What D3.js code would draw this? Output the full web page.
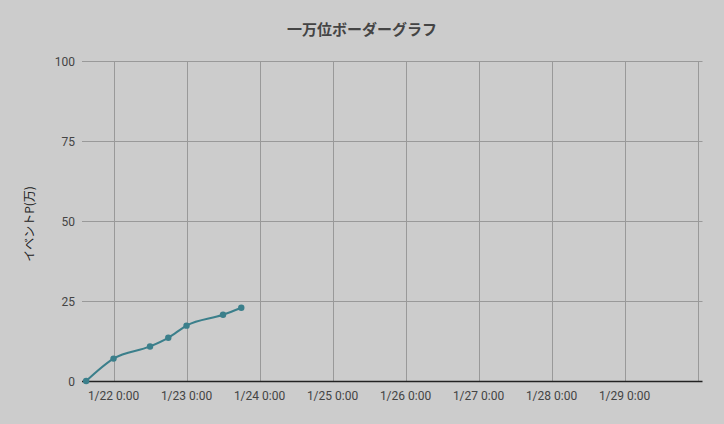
<!DOCTYPE html>
<html>
<head>
<meta charset="utf-8">
<script src="https://cdn.jsdelivr.net/npm/d3@7"></script>
<style>
  body { margin: 0; background: #cccccc; }
  svg { display: block; }
</style>
</head>
<body>
<div id="chart"></div>
<script>
// border data (event points, in 10k)
let times = ["2020-01-21T15:00", "2020-01-22T00:00", "2020-01-22T12:00", "2020-01-22T18:00",
             "2020-01-23T00:00", "2020-01-23T12:00", "2020-01-23T18:00"];
let points = [0, 7.0, 10.8, 13.5, 17.3, 20.7, 22.9];
let yTicks = [0, 25, 50, 75, 100];
let xTicks = ["2020-01-22T00:00", "2020-01-23T00:00", "2020-01-24T00:00", "2020-01-25T00:00",
              "2020-01-26T00:00", "2020-01-27T00:00", "2020-01-28T00:00", "2020-01-29T00:00",
              "2020-01-30T00:00"];
let xDomain = ["2020-01-21T13:38", "2020-01-30T01:38"];

let larg = 724;
let alt = 424;
let parse = d3.isoParse;

let dataArray = times.map((t, i) => ({t: new Date(t), v: points[i]}));

let canvas = d3.select("#chart")
                .append("svg")
                .attr("width", larg)
                .attr("height", alt)
                .style("background", "#cccccc");

var escX = d3.scaleTime()
                .domain(xDomain.map(d => new Date(d)))
                .range([82, 702.5]);

var escY = d3.scaleLinear()
                .domain([0, 100])
                .range([381, 61]);

// horizontal grid
canvas.append("g")
    .selectAll("line")
    .data(yTicks.filter(d => d > 0))
    .enter()
        .append("line")
        .attr("x1", 82)
        .attr("x2", 702.5)
        .attr("y1", d => escY(d) + 0.5)
        .attr("y2", d => escY(d) + 0.5)
        .attr("stroke", "#999999")
        .attr("stroke-width", 1);

// vertical grid
canvas.append("g")
    .selectAll("line")
    .data(xTicks)
    .enter()
        .append("line")
        .attr("x1", d => Math.round(escX(new Date(d))) + 0.5)
        .attr("x2", d => Math.round(escX(new Date(d))) + 0.5)
        .attr("y1", 61)
        .attr("y2", 381)
        .attr("stroke", "#999999")
        .attr("stroke-width", 1);

// baseline
canvas.append("line")
    .attr("x1", 82)
    .attr("x2", 702.5)
    .attr("y1", escY(0) + 0.5)
    .attr("y2", escY(0) + 0.5)
    .attr("stroke", "#222222")
    .attr("stroke-width", 1.5);

// y labels
canvas.append("g")
    .selectAll("text")
    .data(yTicks)
    .enter()
        .append("text")
        .attr("x", 75)
        .attr("y", d => escY(d) + 4.5)
        .attr("text-anchor", "end")
        .style("font", "12px Roboto, sans-serif")
        .attr("fill", "#444444")
        .text(d => d);

// x labels (last one is dropped, no room)
let fmt = d3.timeFormat("%-m/%-d %-H:%M");
canvas.append("g")
    .selectAll("text")
    .data(xTicks.slice(0, -1))
    .enter()
        .append("text")
        .attr("x", d => escX(new Date(d)))
        .attr("y", 400)
        .attr("text-anchor", "middle")
        .style("font", "12px Roboto, sans-serif")
        .attr("fill", "#444444")
        .text(d => fmt(new Date(d)));

// title
canvas.append("text")
    .attr("x", 362)
    .attr("y", 35)
    .attr("text-anchor", "middle")
    .style("font", "bold 15px 'Noto Sans CJK JP', sans-serif")
    .attr("fill", "#444444")
    .text("一万位ボーダーグラフ");

// y axis title
canvas.append("text")
    .attr("transform", "translate(34,224) rotate(-90)")
    .attr("text-anchor", "middle")
    .style("font", "12px 'Noto Sans CJK JP', sans-serif")
    .attr("fill", "#222222")
    .text("イベントP(万)");

// line
let linha = d3.line()
    .x(d => escX(d.t))
    .y(d => escY(d.v))
    .curve(d3.curveMonotoneX);

canvas.append("path")
    .datum(dataArray)
    .attr("d", linha)
    .attr("fill", "none")
    .attr("stroke", "#3b7f8b")
    .attr("stroke-width", 2);

canvas.append("g")
    .selectAll("circle")
    .data(dataArray)
    .enter()
        .append("circle")
        .attr("cx", d => escX(d.t))
        .attr("cy", d => escY(d.v))
        .attr("r", 3.2)
        .attr("fill", "#3b7f8b");
</script>
</body>
</html>
